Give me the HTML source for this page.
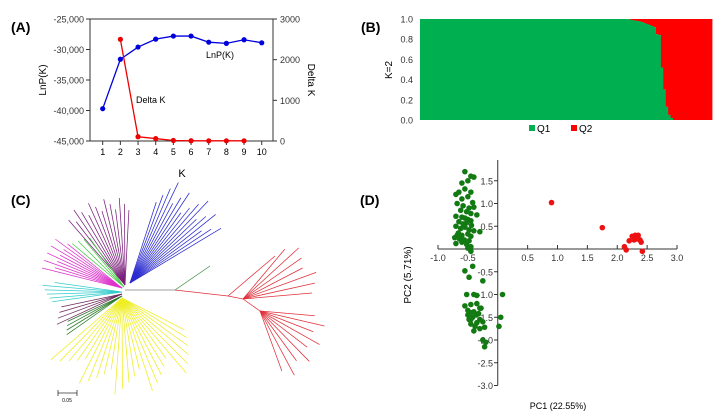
<!DOCTYPE html>
<html><head><meta charset="utf-8"><style>
body{margin:0;background:#fff}
svg{display:block;font-family:"Liberation Sans",Arial,sans-serif}
</style></head><body>
<svg id="fig" width="719" height="418" viewBox="0 0 719 418" xmlns="http://www.w3.org/2000/svg">
<g id="pa">
<text x="11" y="32" font-size="14" font-weight="bold">(A)</text>
<rect x="90" y="19" width="183" height="122" fill="none" stroke="#333" stroke-width="1"/>
<text transform="translate(46,80) rotate(-90)" font-size="10" text-anchor="middle">LnP(K)</text>
<text transform="translate(308,80) rotate(90)" font-size="10" text-anchor="middle">Delta K</text>
<text x="182" y="177" font-size="11" text-anchor="middle">K</text>
<text x="136" y="103" font-size="9">Delta K</text>
<text x="206" y="58" font-size="9">LnP(K)</text>
</g>
<g id="pb">
<text x="361" y="32" font-size="14" font-weight="bold">(B)</text>
<text transform="translate(392,70) rotate(-90)" font-size="10" text-anchor="middle">K=2</text>
<rect x="529" y="125" width="6" height="6" fill="#00b050"/>
<text x="537" y="132" font-size="10">Q1</text>
<rect x="571" y="125" width="6" height="6" fill="#ff0000"/>
<text x="579" y="132" font-size="10">Q2</text>
</g>
<g id="pc">
<text x="11" y="205" font-size="14" font-weight="bold">(C)</text>
<line x1="58" y1="393" x2="77" y2="393" stroke="#333" stroke-width="0.8"/>
<line x1="58" y1="390" x2="58" y2="396" stroke="#333" stroke-width="0.8"/>
<line x1="77" y1="390" x2="77" y2="396" stroke="#333" stroke-width="0.8"/>
<text x="67" y="402" font-size="5" text-anchor="middle">0.05</text>
</g>
<g id="pd">
<text x="360" y="205" font-size="14" font-weight="bold">(D)</text>
<text transform="translate(411,275) rotate(-90)" font-size="10" text-anchor="middle">PC2 (5.71%)</text>
<text x="558" y="409" font-size="9" text-anchor="middle">PC1 (22.55%)</text>
</g>
</svg>
<script>
const NS='http://www.w3.org/2000/svg';
function mk(p,t,a){const e=document.createElementNS(NS,t);for(const k in a)e.setAttribute(k,a[k]);p.appendChild(e);return e;}
// ---------- Panel A data ----------
const kValues=[1,2,3,4,5,6,7,8,9,10];
const lnpValues=[-39700,-31600,-29600,-28300,-27800,-27800,-28800,-29000,-28400,-28900];
const deltaKCats=[2,3,4,5,6,7,8,9];
const deltaKValues=[2500,105,60,12,6,5,5,5];
const lnpTicks=[-25000,-30000,-35000,-40000,-45000];
const lnpTickLabels=['-25,000','-30,000','-35,000','-40,000','-45,000'];
const dkTicks=[0,1000,2000,3000];
// ---------- Panel B data ----------
const q1Values=[];
for(let i=0;i<85;i++)q1Values.push(1);
q1Values.push(0.998,0.995,0.99,0.985,0.98,0.975,0.97,0.96,0.95,0.94,0.93,0.92,0.85,0.84,0.52,0.3,0.13,0.05,0.02);
while(q1Values.length<120)q1Values.push(0);
const bTicks=[0,0.2,0.4,0.6,0.8,1.0];
// ---------- Panel D data ----------
const pcGreenX=[-0.55,-0.45,-0.4,-0.6,-0.5,-0.65,-0.55,-0.45,-0.7,-0.6,-0.5,-0.42,-0.68,-0.58,-0.48,-0.4,-0.62,-0.52,-0.45,-0.35,-0.7,-0.6,-0.55,-0.5,-0.45,-0.65,-0.58,-0.52,-0.44,-0.7,-0.62,-0.55,-0.48,-0.4,-0.3,-0.66,-0.6,-0.5,-0.45,-0.72,-0.64,-0.56,-0.48,-0.7,-0.6,-0.52,-0.45,-0.68,-0.5,-0.45,
-0.42,-0.55,-0.48,-0.25,-0.52,-0.4,-0.35,0.08,-0.55,-0.45,-0.35,-0.3,-0.5,-0.45,-0.4,-0.32,-0.28,-0.48,-0.42,-0.36,-0.3,-0.45,-0.38,-0.25,0.05,-0.4,-0.3,-0.22,0.02,-0.45,-0.35,-0.25,-0.22,-0.2,-0.5];
const pcGreenY=[1.7,1.6,1.58,1.45,1.5,1.25,1.32,1.25,1.2,1.1,1.15,1.02,1.0,0.95,0.9,0.92,0.85,0.82,0.78,0.75,0.72,0.7,0.68,0.65,0.62,0.6,0.55,0.58,0.52,0.5,0.45,0.48,0.42,0.4,0.38,0.35,0.3,0.33,0.28,0.25,0.22,0.2,0.18,0.12,0.15,0.1,0.05,0.3,0.02,-0.05,
-0.38,-0.48,-0.62,-0.7,-1.0,-1.0,-1.02,-1.0,-1.25,-1.22,-1.2,-1.3,-1.35,-1.4,-1.38,-1.42,-1.3,-1.55,-1.5,-1.45,-1.55,-1.65,-1.7,-1.6,-1.5,-1.8,-1.75,-1.72,-1.7,-1.55,-1.62,-2.0,-2.15,-2.05,-1.45];
const pcRedX=[0.9,1.75,2.12,2.15,2.2,2.25,2.3,2.35,2.38,2.4,2.42,2.28,2.33];
const pcRedY=[1.02,0.47,0.05,-0.02,0.18,0.28,0.3,0.3,0.2,0.15,-0.05,0.2,0.22];
const pcXTicks=[-1.0,-0.5,0.5,1.0,1.5,2.0,2.5,3.0];
const pcYTicks=[1.5,1.0,0.5,-0.5,-1.0,-1.5,-2.0,-2.5,-3.0];

// ---------- draw A ----------
const pa=document.getElementById('pa');
const ax=k=>102.7+(k-1)*17.67;
const ayL=v=>19+(-25000-v)/20000*122;
const ayR=v=>141-v/3000*122;
lnpTicks.forEach((t,i)=>{const y=ayL(t);
 const l=mk(pa,'line',{x1:86,y1:y,x2:90,y2:y,stroke:'#333'});
 
 
 const tx=mk(pa,'text',{x:84,y:y+3.5,'font-size':9,'text-anchor':'end',fill:'#333'});tx.textContent=lnpTickLabels[i];
 
 });
dkTicks.forEach(t=>{const y=ayR(t);
 const l=mk(pa,'line',{x1:273,y1:y,x2:277,y2:y,stroke:'#333'});
 
 
 const tx=mk(pa,'text',{x:280,y:y+3.5,'font-size':9,fill:'#333'});tx.textContent=t;
 
 });
kValues.forEach(k=>{const x=ax(k);
 const l=mk(pa,'line',{x1:x,y1:141,x2:x,y2:145,stroke:'#333'});
 
 
 const tx=mk(pa,'text',{x:x,y:155,'font-size':9,'text-anchor':'middle'});tx.textContent=k;
 
 });
let pl=mk(pa,'polyline',{points:kValues.map((k,i)=>ax(k)+','+ayL(lnpValues[i])).join(' '),fill:'none',stroke:'#0000dd','stroke-width':1.3});


kValues.forEach((k,i)=>{const c=mk(pa,'circle',{cx:ax(k),cy:ayL(lnpValues[i]),r:2.6,fill:'#0000dd'});
 
 });
pl=mk(pa,'polyline',{points:deltaKCats.map((k,i)=>ax(k)+','+ayR(deltaKValues[i])).join(' '),fill:'none',stroke:'#ee0000','stroke-width':1.3});


deltaKCats.forEach((k,i)=>{const c=mk(pa,'circle',{cx:ax(k),cy:ayR(deltaKValues[i]),r:2.6,fill:'#ee0000'});
 
 });

// ---------- draw B ----------
const pb=document.getElementById('pb');
const bx0=420,bx1=712,by0=19,by1=120,bw=(bx1-bx0)/q1Values.length;
const by=v=>by1-v*(by1-by0);
q1Values.forEach((v,i)=>{const x=bx0+i*bw;
 const r=mk(pb,'rect',{x:x,y:by0,width:bw+0.4,height:by(v)-by0,fill:'#ff0000'});
 
 
 const g=mk(pb,'rect',{x:x,y:by(v),width:bw+0.4,height:by1-by(v),fill:'#00b050'});
 
 });
bTicks.forEach(t=>{const tx=mk(pb,'text',{x:413,y:by(t)+3.5,'font-size':9,'text-anchor':'end',fill:'#333'});tx.textContent=t.toFixed(1);
 
 });

// ---------- draw C (tree) ----------
const pc=document.getElementById('pc');
function seg(x1,y1,x2,y2,c,name){const l=mk(pc,'line',{x1,y1,x2,y2,stroke:c,'stroke-width':0.75});
 
 }
function fan(ox,oy,a0,a1,n,l0,l1,c,name){for(let i=0;i<n;i++){const a=(a0+(a1-a0)*i/(n-1))*Math.PI/180;const L=l0+(l1-l0)*((i*5)%n)/n;seg(ox,oy,ox+L*Math.cos(a),oy-L*Math.sin(a),c,name);}}
seg(125,290,175,290,'#808080','tree-trunk');
seg(175,290,210,266,'#3a8a3a','tree-branch-green');
seg(175,290,228,296,'#e0303a','tree-branch-red');
seg(228,296,243,299,'#e0303a','tree-branch-red');
seg(243,299,260,311,'#e0303a','tree-branch-red');
seg(228,296,275,256,'#e0303a','tree-leaf-red');
fan(243,299,50,5,7,65,80,'#e0303a','tree-leaf-red');
fan(260,311,-5,-70,9,55,75,'#e0303a','tree-leaf-red');
fan(125,285,87,131,14,75,92,'#7a1f7a','tree-leaf-purple');
fan(130,283,72,31,17,85,115,'#2a2ad0','tree-leaf-blue');
fan(124,287,125,140,4,60,70,'#44cc44','tree-leaf-green');
fan(122,288,141,166,10,70,95,'#dd33cc','tree-leaf-magenta');
fan(122,292,172,188,6,68,82,'#33cccc','tree-leaf-cyan');
fan(122,294,192,205,4,62,75,'#6b2a5a','tree-leaf-purple-dark');
fan(122,296,205,215,4,60,70,'#2a7a2a','tree-leaf-darkgreen');
fan(122,298,-27,-139,26,70,100,'#eeee22','tree-leaf-yellow');

// ---------- draw D ----------
const pd=document.getElementById('pd');
const dx=v=>497.75+v*59.75, dy=v=>249-v*45.5;
let l=mk(pd,'line',{x1:dx(-1),y1:249,x2:dx(3),y2:249,stroke:'#333'});


l=mk(pd,'line',{x1:497.75,y1:160,x2:497.75,y2:dy(-3),stroke:'#333'});


pcXTicks.forEach(t=>{const x=dx(t);
 const k=mk(pd,'line',{x1:x,y1:245,x2:x,y2:249,stroke:'#333'});
 
 
 const tx=mk(pd,'text',{x:x,y:261,'font-size':9,'text-anchor':'middle',fill:'#333'});tx.textContent=t.toFixed(1);
 
 });
pcYTicks.forEach(t=>{const y=dy(t);
 const k=mk(pd,'line',{x1:494,y1:y,x2:497.75,y2:y,stroke:'#333'});
 
 
 const tx=mk(pd,'text',{x:493,y:y+3.5,'font-size':9,'text-anchor':'end',fill:'#333'});tx.textContent=t.toFixed(1);
 
 });
pcGreenX.forEach((v,i)=>{const c=mk(pd,'circle',{cx:dx(v),cy:dy(pcGreenY[i]),r:2.8,fill:'#137a13'});
 
 });
pcRedX.forEach((v,i)=>{const c=mk(pd,'circle',{cx:dx(v),cy:dy(pcRedY[i]),r:2.8,fill:'#ee1111'});
 
 });
</script>
</body></html>
